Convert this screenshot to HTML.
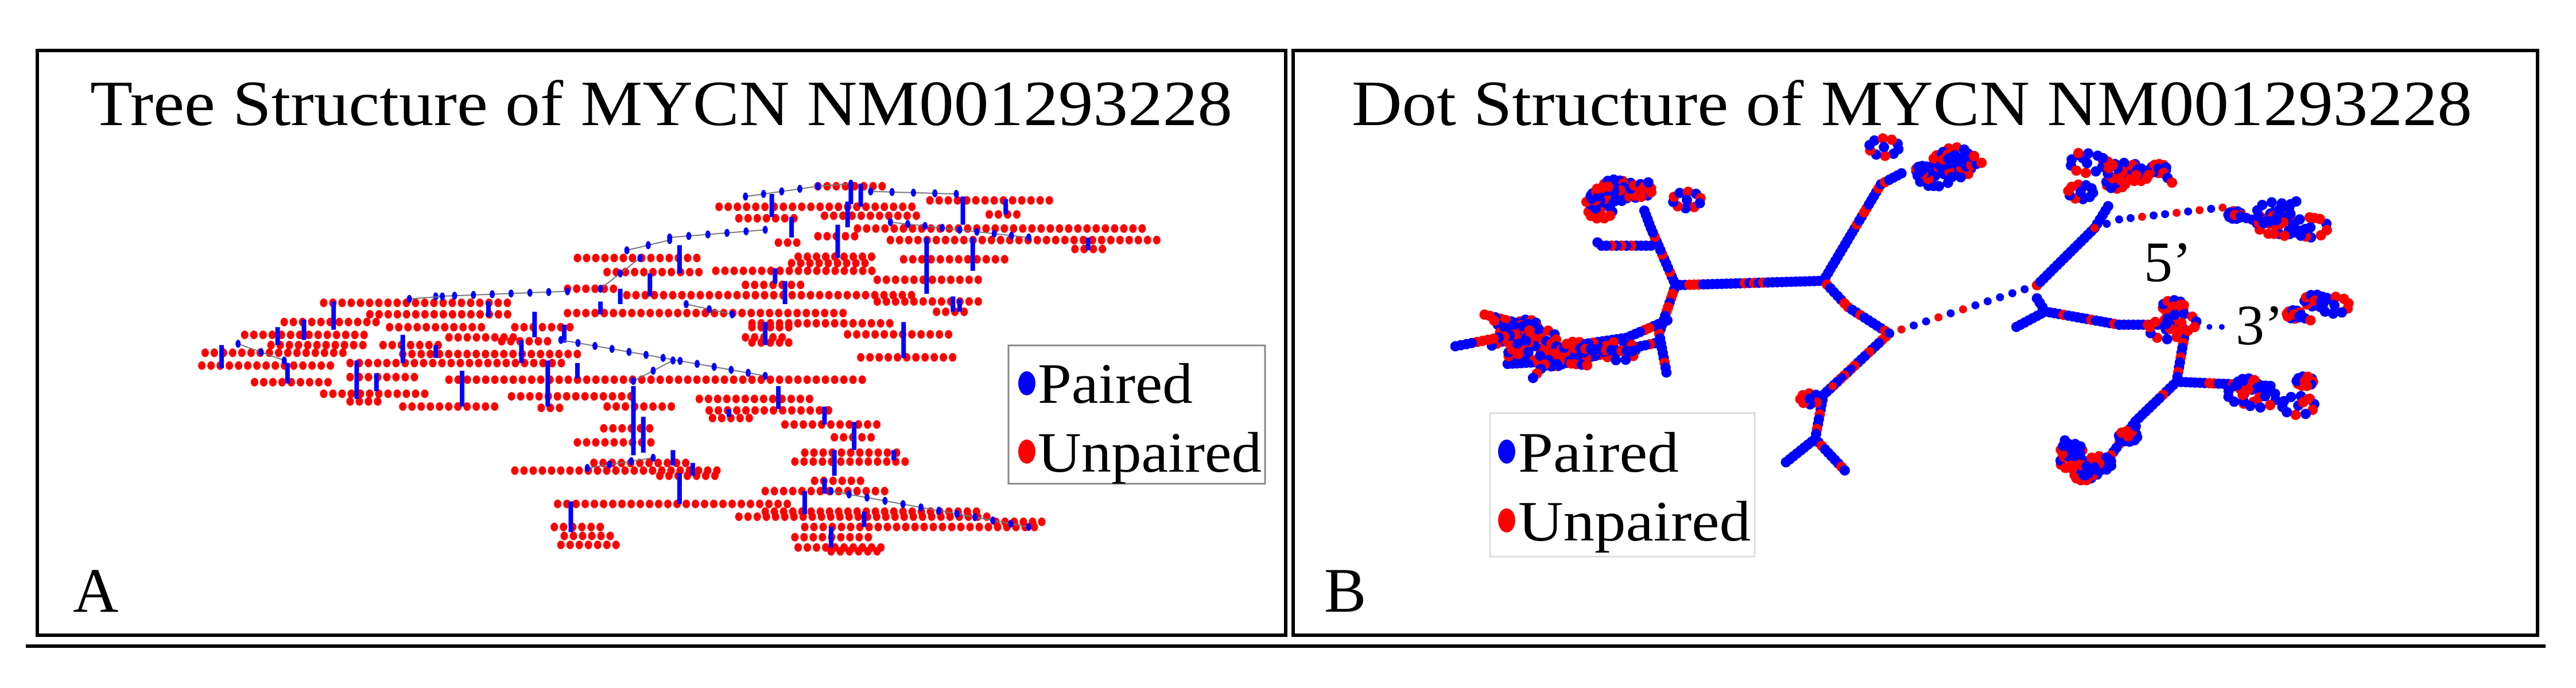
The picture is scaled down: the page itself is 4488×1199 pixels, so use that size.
<!DOCTYPE html>
<html><head><meta charset="utf-8"><style>
html,body{margin:0;padding:0;background:#fff;}
svg{display:block;}
text{font-family:"Liberation Serif",serif;fill:#000;}
</style></head><body>
<svg id="s" width="4488" height="1199" viewBox="0 0 4488 1199" xmlns="http://www.w3.org/2000/svg">
<rect width="4488" height="1199" fill="#fff"/>
<g id="A"></g><g id="B"></g>
<rect x="65" y="88" width="2175" height="1019" fill="none" stroke="#000" stroke-width="6"/>
<rect x="2253" y="88" width="2168" height="1019" fill="none" stroke="#000" stroke-width="6"/>
<rect x="45" y="1123" width="4390" height="6" fill="#000"/>
<text x="1152" y="218" font-size="112" text-anchor="middle" textLength="1990" lengthAdjust="spacingAndGlyphs">Tree Structure of MYCN NM001293228</text>
<text x="3331" y="218" font-size="112" text-anchor="middle" textLength="1952" lengthAdjust="spacingAndGlyphs">Dot Structure of MYCN NM001293228</text>
<text x="127" y="1066" font-size="110">A</text>
<text x="2307" y="1066" font-size="110">B</text>
<rect x="1757" y="602" width="447" height="241" fill="#fff" stroke="#888" stroke-width="3"/>
<ellipse cx="1789" cy="668" rx="15" ry="21" fill="#0000ff"/>
<text x="1808" y="702" font-size="100" textLength="270" lengthAdjust="spacingAndGlyphs">Paired</text>
<ellipse cx="1789" cy="787" rx="15" ry="21" fill="#ff0000"/>
<text x="1808" y="822" font-size="100" textLength="390" lengthAdjust="spacingAndGlyphs">Unpaired</text>
<rect x="2596" y="720" width="461" height="250" fill="#fff" stroke="#ddd" stroke-width="3"/>
<ellipse cx="2625" cy="787" rx="15" ry="21" fill="#0000ff"/>
<text x="2645" y="822" font-size="100" textLength="280" lengthAdjust="spacingAndGlyphs">Paired</text>
<ellipse cx="2625" cy="907" rx="15" ry="21" fill="#ff0000"/>
<text x="2645" y="942" font-size="100" textLength="405" lengthAdjust="spacingAndGlyphs">Unpaired</text>
<text x="3735" y="490" font-size="100">5’</text>
<text x="3895" y="600" font-size="100">3’</text>
</svg>
<script>
(function(){
var NS="http://www.w3.org/2000/svg";
var seed=12345;function rnd(){seed=(seed*16807)%2147483647;return seed/2147483647;}
function el(p,t,a){var e=document.createElementNS(NS,t);for(var k in a)e.setAttribute(k,a[k]);p.appendChild(e);return e;}
var A=document.getElementById("A"),B=document.getElementById("B");
function ax(o){return 300+o*1.148;} function ay(o){return 280+o*0.4464;}
var rows=[[980,1080,100],[830,1130,180],[1150,1345,155],[860,950,225],[990,1130,215],[1240,1290,210],
[1040,1475,265],[980,1040,295],[920,960,320],[1090,1500,310],[1370,1420,345],[615,800,380],[950,1070,375],[1110,1270,385],
[660,800,435],[825,1065,430],[1070,1225,465],[870,965,485],[600,680,500],[230,510,555],[690,1130,525],[1070,1225,550],
[300,520,600],[600,1020,595],[1160,1215,590],[170,310,630],[880,1100,635],[520,610,650],[110,300,680],[1025,1190,678],[870,935,690],
[320,410,720],[500,580,705],[50,260,750],[350,620,755],[45,250,800],[270,600,790],[1045,1185,768],[125,250,865],[420,1050,855],[270,370,845],
[230,385,910],[515,700,920],[800,980,930],[350,495,960],[270,320,940],[560,590,965],[660,760,960],[815,1005,975],[820,880,1005],[930,1070,1030],
[655,735,1045],[1005,1070,1080],[615,740,1100],[960,1110,1140],[640,790,1180],[520,840,1210],[945,1120,1175],[740,835,1230],[975,1055,1250],
[900,1095,1290],[585,940,1340],[860,1250,1390],[900,1230,1370],[580,650,1430],[960,1320,1430],[1250,1320,1410],[595,670,1465],[945,1060,1470],
[590,680,1500],[950,1085,1510],[1000,1080,1525],[880,940,650],[880,940,710],[150,300,720],[420,520,690],[330,480,650],[940,1060,400]];
rows.forEach(function(r){var y=ay(r[2]);for(var x=ax(r[0]);x<=ax(r[1]);x+=16){el(A,"ellipse",{cx:x.toFixed(1),cy:y.toFixed(1),rx:6.5,ry:7.5,fill:"#ff0000"});}});
var vl=[[1030,90,170],[1045,90,180],[1200,140,250],[1265,150,210],[1010,250,380],[940,220,300],[1145,300,520],[1215,300,430],[725,440,530],[770,330,440],[915,420,480],[930,470,560],[680,500,560],[245,550,660],[200,620,700],[160,650,720],[480,550,610],[550,590,690],[595,640,710],[350,680,790],[400,720,770],[530,700,790],[570,780,960],[615,790,850],[440,820,960],[280,780,930],[175,790,870],[75,720,810],[310,830,900],[700,880,1150],[715,1000,1140],[770,1220,1340],[920,880,970],[990,960,1030],[1035,1020,1130],[1005,1130,1230],[990,1240,1300],[960,1290,1380],[1050,1370,1430],[1000,1430,1510],[1110,630,770],[900,630,720],[605,1330,1450],[845,970,1000],[1390,300,350],[1195,540,590],[1095,1130,1170],[1025,160,260],[910,130,220],[650,550,600],[1185,530,590],[760,1130,1190],[790,1180,1230]];
vl.forEach(function(v){el(A,"line",{x1:ax(v[0]),y1:ay(v[1]),x2:ax(v[0]),y2:ay(v[2]),stroke:"#0000ff","stroke-width":8});});
var dg=[[870,140,980,100],[980,100,1030,90],[755,300,900,270],[690,350,755,310],[650,500,710,380],[400,530,600,510],[590,700,900,840],[100,715,170,780],[630,1200,730,1160],[1000,1290,1300,1430],[780,560,850,600],[1060,120,1190,130],[1090,240,1300,300],[360,540,410,530],[700,860,760,780]];
dg.forEach(function(d){var x1=ax(d[0]),y1=ay(d[1]),x2=ax(d[2]),y2=ay(d[3]);
el(A,"line",{x1:x1,y1:y1,x2:x2,y2:y2,stroke:"#777","stroke-width":2});
var L=Math.hypot(x2-x1,y2-y1),n=Math.floor(L/30);for(var i=0;i<=n;i++){var t=i/Math.max(n,1);el(A,"ellipse",{cx:x1+(x2-x1)*t,cy:y1+(y2-y1)*t,rx:4.5,ry:7,fill:"#0000ff"});}});
function bx(o){return o*2.862;} function by(o){return o*0.7647;}
function chain(pts,r,sp,pr){for(var j=0;j<pts.length-1;j++){var x1=bx(pts[j][0]),y1=by(pts[j][1]),x2=bx(pts[j+1][0]),y2=by(pts[j+1][1]);
var L=Math.hypot(x2-x1,y2-y1),n=Math.max(1,Math.floor(L/sp));for(var i=0;i<n;i++){var t=i/n;el(B,"circle",{cx:(x1+(x2-x1)*t).toFixed(1),cy:(y1+(y2-y1)*t).toFixed(1),r:r,fill:rnd()<pr?"#ff0000":"#0000ff"});}}}
var thick=[
[[1020,650],[1110,640]],
[[1020,650],[1005,520],[1000,470]],[[1005,560],[975,560],[970,545]],[[1020,650],[1010,760],[1015,860]],
[[1110,640],[1145,420],[1160,390]],[[1110,640],[1125,700],[1150,760]],
[[1240,650],[1275,520],[1285,460]],
[[1150,760],[1110,900],[1105,1000],[1085,1060]],[[1105,1000],[1125,1080]],
[[1240,680],[1245,710],[1225,750]],[[1245,710],[1290,740],[1325,740]],
[[1330,760],[1325,870],[1300,960],[1275,1090]],[[1325,870],[1385,880]],
[[1015,730],[990,770],[935,800]],[[1010,780],[960,820],[915,830]]
];
thick.forEach(function(p){chain(p,9,8,0.18);});
chain([[1150,760],[1240,650]],7,22,0.25);chain([[1150,760],[1110,900]],7,22,0.25);
chain([[1275,520],[1290,500],[1360,470]],7,20,0.4);
chain([[1330,745],[1360,745]],5,20,0.2);
function cluster(cx,cy,w,h,n,k){for(var c=0;c<k;c++){var ox=cx+(rnd()-0.5)*w,oy=cy+(rnd()-0.5)*h,rr=4+rnd()*7,a0=rnd()*6.28;
var pts=[];for(var i=0;i<=n;i++){var a=a0+i*6.28/n;pts.push([ox+rr*Math.cos(a),oy+rr*2.2*Math.sin(a)]);}chain(pts,9,9,0.45);
chain([[ox,oy],[ox+(rnd()-0.5)*w*0.8,oy+(rnd()-0.5)*h*0.8]],9,9,0.4);}}
cluster(1000,455,60,80,10,7);cluster(1165,375,60,80,10,6);cluster(960,775,100,130,10,10);
cluster(1290,410,50,110,10,6);cluster(1385,490,55,80,10,5);cluster(1410,705,35,50,10,3);
cluster(1385,890,40,100,10,5);cluster(1280,1040,45,100,10,5);cluster(1320,735,30,80,10,3);
cluster(1105,920,15,30,8,1);
})();
</script>
</body></html>
